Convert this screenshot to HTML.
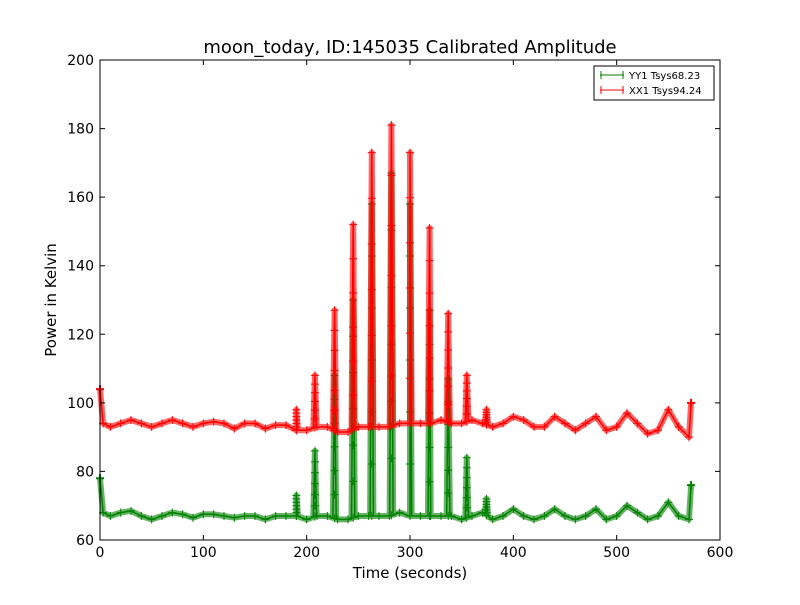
<!DOCTYPE html>
<html><head><meta charset="utf-8"><style>
body{margin:0;background:#fff;}
text{font-family:"DejaVu Sans","Liberation Sans",sans-serif;}
</style></head><body>
<svg id="chart" width="800" height="600" xmlns="http://www.w3.org/2000/svg">
<rect width="800" height="600" fill="#fff"/>
<text x="410" y="53" font-size="18" text-anchor="middle">moon_today, ID:145035 Calibrated Amplitude</text>
<text x="410" y="578" font-size="15" text-anchor="middle">Time (seconds)</text>
<text transform="translate(56,300) rotate(-90)" font-size="15" text-anchor="middle">Power in Kelvin</text>
<g id="plot"></g>
<g id="axes"></g>
<g>
<rect x="594" y="66" width="120" height="34" fill="#fff" stroke="#000" stroke-width="1"/>
<g><line x1="600" y1="75" x2="624" y2="75" stroke="green"/><line x1="601" y1="71" x2="601" y2="79" stroke="green"/><line x1="623" y1="71" x2="623" y2="79" stroke="green"/><text x="629" y="79" font-size="10">YY1 Tsys68.23</text></g>
<g><line x1="600" y1="90" x2="624" y2="90" stroke="red"/><line x1="601" y1="86" x2="601" y2="94" stroke="red"/><line x1="623" y1="86" x2="623" y2="94" stroke="red"/><text x="629" y="94" font-size="10">XX1 Tsys94.24</text></g>
</g>
</svg>
<script>
const baseTimes=[0,3,10,20,30,40,50,60,70,80,90,100,110,120,130,140,150,160,170,180,190,200,210,220,230,240,250,260,270,280,290,300,310,320,330,340,350,360,370,380,390,400,410,420,430,440,450,460,470,480,490,500,510,520,530,540,550,560,570,572];
const redBase=[104,94,93,94,95,94,93,94,95,94,93,94,94.5,94,92.5,94,94,92.5,93.5,93.5,92,92,93,93,91.5,91.5,93,93,93,93,94,94,94,94,95,94,94,95,94,93,94,96,95,93,93,96,94,92,94,96,92,93,97,94,91,92,98,93,90,100];
const greenBase=[78,68,67,68,68.5,67,66,67,68,67.5,66.5,67.5,67.5,67,66.5,67,67,66,67,67,67,66,67,67,66,66,67,67,67,67,68,67,67,67,67,67,66,67,68,66,67,69,67,66,67,69,67,66,67,69,66,67,70,68,66,67,71,67,66,76];
const spikeTimes=[190,208,227,245,263,282,300,319,337,355,374];
const redPeaks=[98,108,127,152,173,181,173,151,126,108,98];
const greenPeaks=[73,86,108,130,158,167,158,127,107,84,72];
const xTicks=[0,100,200,300,400,500,600];
const yTicks=[60,80,100,120,140,160,180,200];
const X=t=>100+t*620/600, Y=v=>540-(v-60)*480/140;
const NS="http://www.w3.org/2000/svg";
function mk(tag,attrs,parent){const e=document.createElementNS(NS,tag);for(const k in attrs)e.setAttribute(k,attrs[k]);parent.appendChild(e);return e;}
function baseAt(arr,t){for(let i=0;i<baseTimes.length-1;i++){if(t>=baseTimes[i]&&t<=baseTimes[i+1]){const f=(t-baseTimes[i])/(baseTimes[i+1]-baseTimes[i]);return arr[i]+f*(arr[i+1]-arr[i]);}}return arr[arr.length-1];}
const plot=document.getElementById('plot');
function series(base,peaks,color,name){
  let pts=baseTimes.map((t,i)=>[t,base[i]]);
  spikeTimes.forEach((t,i)=>{pts.push([t-1.6,baseAt(base,t-1.6)]);pts.push([t,peaks[i]]);pts.push([t+1.6,baseAt(base,t+1.6)]);});
  pts.sort((a,b)=>a[0]-b[0]);
  const g=mk('g',{},plot);
  
  
  const d=pts.map((p,i)=>(i?'L':'M')+X(p[0]).toFixed(1)+','+Y(p[1]).toFixed(1)).join('');
  const band=mk('path',{d:d,fill:'none',stroke:color,'stroke-width':6,'stroke-opacity':0.6,'stroke-linejoin':'round'},g);
  
  
  const ln=mk('path',{d:d,fill:'none',stroke:color,'stroke-width':1.5},g);
  
  
  baseTimes.forEach((t,i)=>{const x=X(t),y=Y(base[i]);
    const m=mk('path',{d:`M${x-4},${y}H${x+4}M${x},${y-4}V${y+4}`,stroke:color,'stroke-width':1},g);
    
    });
  spikeTimes.forEach((t,i)=>{
    const b=baseAt(base,t),x=X(t);
    for(let k=0;k<=6;k++){const v=b+(peaks[i]-b)*k/6;const y=Y(v);
      const m=mk('path',{d:`M${x-4},${y}H${x+4}M${x},${y-4}V${y+4}`,stroke:color,'stroke-width':1},g);
      
      }
  });
  [0,baseTimes.length-1].forEach(i=>{const x=X(baseTimes[i]),y=Y(base[i]);
    const m=mk('path',{d:`M${x-4},${y}H${x+4}M${x},${y-4}V${y+4}`,stroke:color,'stroke-width':2},g);
    
    });
}
series(greenBase,greenPeaks,'green','series-yy1');
series(redBase,redPeaks,'red','series-xx1');
const ax=document.getElementById('axes');
mk('rect',{x:100,y:60,width:620,height:480,fill:'none',stroke:'#000','stroke-width':1},ax);
xTicks.forEach(t=>{const x=X(t);
  const tk=mk('path',{d:`M${x},540v-5M${x},60v5`,stroke:'#000'},ax);
  
  
  const tx=mk('text',{x:x,y:557,'font-size':14,'text-anchor':'middle'},ax);tx.textContent=t;
  
  });
yTicks.forEach(v=>{const y=Y(v);
  const tk=mk('path',{d:`M100,${y}h5M720,${y}h-5`,stroke:'#000'},ax);
  
  
  const tx=mk('text',{x:94,y:y+5,'font-size':14,'text-anchor':'end'},ax);tx.textContent=v;
  
  });
</script>
</body></html>
